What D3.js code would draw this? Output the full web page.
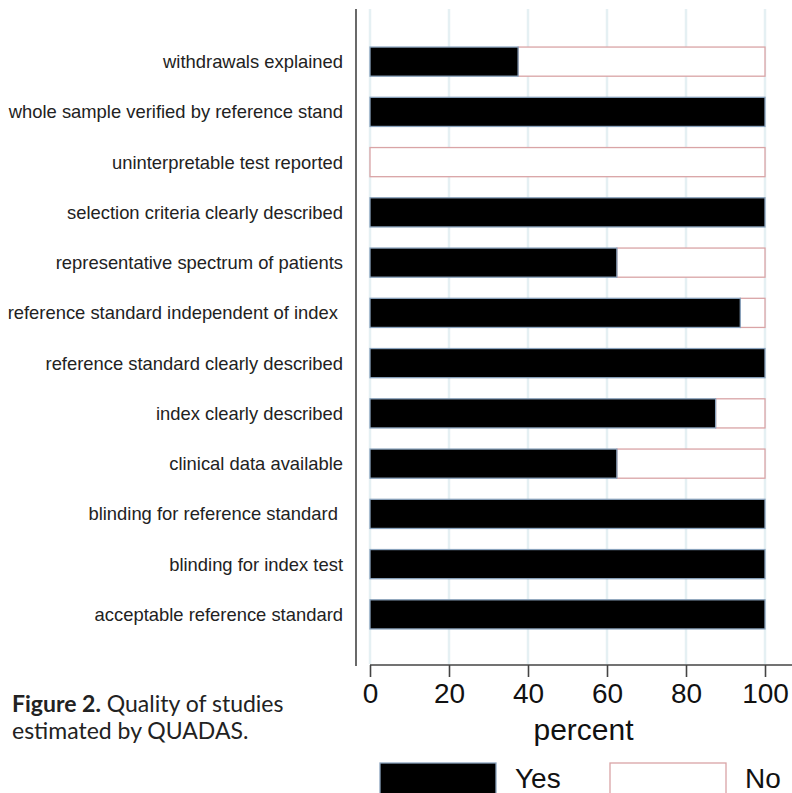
<!DOCTYPE html>
<html><head><meta charset="utf-8">
<script src="https://cdn.jsdelivr.net/npm/d3@7"></script>
<style>body{margin:0;background:#fff}svg{display:block}</style>
</head><body>
<script>
const categories = [
  "withdrawals explained",
  "whole sample verified by reference stand",
  "uninterpretable test reported",
  "selection criteria clearly described",
  "representative spectrum of patients",
  "reference standard independent of index ",
  "reference standard clearly described",
  "index clearly described",
  "clinical data available",
  "blinding for reference standard ",
  "blinding for index test",
  "acceptable reference standard"
];
const yesValues = [37.5, 100, 0, 100, 62.5, 93.75, 100, 87.5, 62.5, 100, 100, 100];
const noValues  = [62.5, 0, 100, 0, 37.5, 6.25, 0, 12.5, 37.5, 0, 0, 0];
const xTicks = [0, 20, 40, 60, 80, 100];
const seriesNames = ["Yes", "No"];

const W = 792, H = 793;
const FONT = "'Liberation Sans', Arial, Helvetica, sans-serif";
const svg = d3.select("body").append("svg").attr("width", W).attr("height", H);

const x = d3.scaleLinear().domain([0, 100]).range([370, 765]);
const y = d3.scaleBand().domain(categories).range([37, 639]).paddingInner(0.42).paddingOuter(0.2);

// gridlines
svg.append("g").selectAll("line").data(xTicks).join("line")
  .attr("x1", d => x(d)).attr("x2", d => x(d))
  .attr("y1", 9).attr("y2", 664)
  .attr("stroke", "#e5f0f3").attr("stroke-width", 2.5);

// left axis line
svg.append("line").attr("x1", 356).attr("x2", 356).attr("y1", 9).attr("y2", 666)
  .attr("stroke", "#444").attr("stroke-width", 1.6);

// bars
const rows = categories.map((c, i) => ({c, yes: yesValues[i], no: noValues[i]}));
const g = svg.append("g");
g.selectAll("rect.no").data(rows.filter(r => r.no > 0)).join("rect")
  .attr("class", "no")
  .attr("x", d => x(d.yes)).attr("width", d => x(d.yes + d.no) - x(d.yes))
  .attr("y", d => y(d.c)).attr("height", y.bandwidth())
  .attr("fill", "#fff").attr("stroke", "#d9a4a6").attr("stroke-width", 1.3);
g.selectAll("rect.yes").data(rows.filter(r => r.yes > 0)).join("rect")
  .attr("class", "yes")
  .attr("x", x(0)).attr("width", d => x(d.yes) - x(0))
  .attr("y", d => y(d.c)).attr("height", y.bandwidth())
  .attr("fill", "#000").attr("stroke", "#8aa3bd").attr("stroke-width", 1.3);

// category labels
svg.append("g").selectAll("text").data(categories).join("text")
  .attr("x", 343).attr("y", d => y(d) + y.bandwidth() / 2)
  .attr("dy", "0.35em").attr("text-anchor", "end")
  .style("font-family", FONT).style("font-size", "18.4px")
  .attr("fill", "#222")
  .style("white-space", "pre")
  .text(d => d);

// bottom axis
const xAxis = d3.axisBottom(x).tickValues(xTicks).tickSize(12).tickSizeOuter(0).tickPadding(6);
const ax = svg.append("g").attr("transform", "translate(0,665)").call(xAxis);
ax.select(".domain").remove();
ax.append("line").attr("x1", x(0)).attr("x2", W).attr("y1", 0).attr("y2", 0)
  .attr("stroke", "#444").attr("stroke-width", 1.6);
ax.selectAll(".tick line").attr("stroke", "#444").attr("stroke-width", 1.6);
ax.selectAll(".tick text").style("font-family", FONT)
  .style("font-size", "28px").attr("fill", "#111");

svg.append("text").attr("x", (x(0) + x(100)) / 2 + 16).attr("y", 740)
  .attr("text-anchor", "middle")
  .style("font-family", FONT).style("font-size", "30px")
  .attr("fill", "#111").text("percent");

// legend
const legendX = [380, 610];
const legendColors = [{fill: "#000", stroke: "#8aa3bd"}, {fill: "#fff", stroke: "#d9a4a6"}];
const lg = svg.append("g").selectAll("g").data(seriesNames).join("g");
lg.append("rect").attr("x", (d, i) => legendX[i]).attr("y", 763).attr("width", 116).attr("height", 34)
  .attr("fill", (d, i) => legendColors[i].fill).attr("stroke", (d, i) => legendColors[i].stroke).attr("stroke-width", 1.3);
lg.append("text").attr("x", (d, i) => legendX[i] + 135).attr("y", 788)
  .style("font-family", FONT).style("font-size", "28px")
  .attr("fill", "#111").text(d => d);

// caption
const cap = svg.append("text").style("font-family", "Lato, sans-serif").style("font-size", "23px").attr("fill", "#222");
const l1 = cap.append("tspan").attr("x", 12).attr("y", 712);
l1.append("tspan").attr("font-weight", "bold").text("Figure 2.");
l1.append("tspan").text(" Quality of studies");
cap.append("tspan").attr("x", 12).attr("y", 739).text("estimated by QUADAS.");
</script>
</body></html>
